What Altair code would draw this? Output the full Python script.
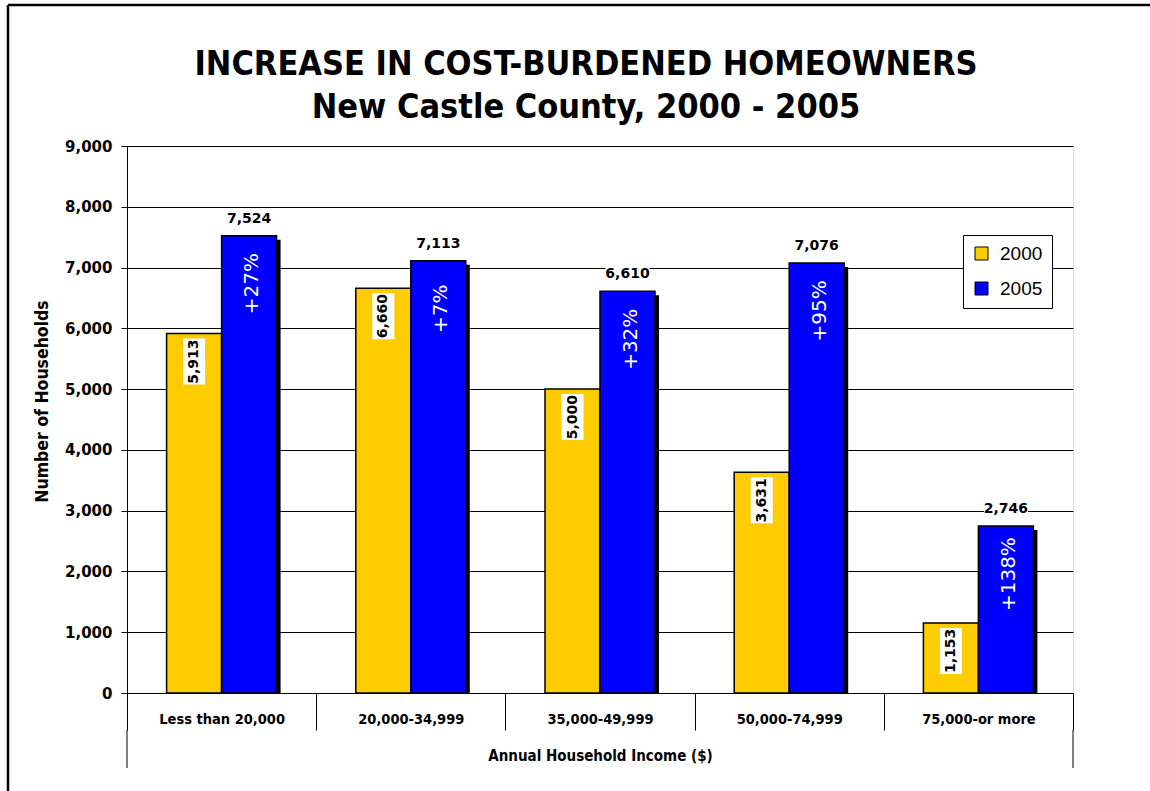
import altair as alt
import pandas as pd

categories = ["Less than 20,000", "20,000-34,999", "35,000-49,999", "50,000-74,999", "75,000-or more"]
years = ["2000", "2005"]
values_2000 = [5913, 6660, 5000, 3631, 1153]
values_2005 = [7524, 7113, 6610, 7076, 2746]
pct_labels = ["+27%", "+7%", "+32%", "+95%", "+138%"]
y_ticks = [0, 1000, 2000, 3000, 4000, 5000, 6000, 7000, 8000, 9000]

rows = []
for c, a, b, p in zip(categories, values_2000, values_2005, pct_labels):
    rows.append({"cat": c, "year": "2000", "value": a, "pct": ""})
    rows.append({"cat": c, "year": "2005", "value": b, "pct": p})
df = pd.DataFrame(rows)

W, H = 946, 547
BAND = W / len(categories)
COND = "DejaVu Sans Condensed, Liberation Sans Narrow, DejaVu Sans"
NUM = "DejaVu Sans"

x_enc = alt.X("cat:N", sort=categories, scale=alt.Scale(paddingInner=0, paddingOuter=0),
              axis=alt.Axis(title="Annual Household Income ($)", labelAngle=0, tickBand="extent",
                            tickSize=37, tickColor="black", domainColor="black",
                            labelFont=COND, labelFontSize=14.5, labelFontWeight="bold", labelColor="black",
                            labelBaseline="middle", labelPadding=-11,
                            titleFont=COND, titleFontSize=15, titleFontWeight="bold", titleColor="black",
                            titleY=62, titleBaseline="middle", grid=False))
xo_enc = alt.XOffset("year:N", scale=alt.Scale(domain=years, paddingInner=0, paddingOuter=0.72))
y_enc = alt.Y("value:Q", scale=alt.Scale(domain=[0, 9000], nice=False),
              axis=alt.Axis(title="Number of Households", values=y_ticks, format=",.0f",
                            labelFont=NUM, labelFontSize=15, labelFontWeight="bold", labelColor="black",
                            tickSize=6, tickColor="black", labelPadding=9, domainColor="black",
                            gridColor="black", gridWidth=1,
                            titleFont=COND, titleFontSize=17.5, titleFontWeight="bold", titleColor="black",
                            titleX=-85, titleY=255, titleAlign="center", titleBaseline="middle"))

base = alt.Chart(df)
d2000 = base.transform_filter(alt.datum.year == "2000")
d2005 = base.transform_filter(alt.datum.year == "2005")

shadow = d2005.mark_bar(color="black", yOffset=4, clip=True).encode(
    x=x_enc,
    xOffset=alt.XOffset("year:N", scale=alt.Scale(domain=years, range=[4, BAND + 4],
                                                 paddingInner=0, paddingOuter=0.72)),
    y=y_enc)
shadow_layer = alt.layer(shadow)

bars = base.mark_bar(stroke="black", strokeWidth=1.5).encode(
    x=x_enc, xOffset=xo_enc, y=y_enc,
    color=alt.Color("year:N", scale=alt.Scale(domain=years, range=["#FFCC00", "#0000FF"]),
                    legend=alt.Legend(title=None, orient="none", legendX=836, legendY=89,
                                      fillColor="white", strokeColor="black", padding=9,
                                      symbolType="square", symbolSize=169, symbolStrokeColor="black",
                                      symbolStrokeWidth=1, labelFont="Liberation Sans", labelFontSize=19,
                                      labelColor="black", rowPadding=15, labelOffset=9)))

box2000 = d2000.mark_point(shape="M-0.48,-1L0.48,-1L0.48,1L-0.48,1Z", filled=True, fill="white",
                           opacity=1, strokeWidth=0, size=2116, yOffset=28).encode(
    x=x_enc, xOffset=xo_enc, y=y_enc)
txt2000 = d2000.mark_text(angle=270, font=NUM, fontSize=14, fontWeight="bold", color="black",
                          align="center", baseline="middle", yOffset=28).encode(
    x=x_enc, xOffset=xo_enc, y=y_enc, text=alt.Text("value:Q", format=","))

box2005 = d2005.mark_point(shape="M-1,-0.42L1,-0.42L1,0.42L-1,0.42Z", filled=True, fill="white",
                           opacity=1, strokeWidth=0, size=1936, yOffset=-17).encode(
    x=x_enc, xOffset=xo_enc, y=y_enc)
txt2005 = d2005.mark_text(font=NUM, fontSize=14, fontWeight="bold", color="black",
                          align="center", baseline="middle", yOffset=-17).encode(
    x=x_enc, xOffset=xo_enc, y=y_enc, text=alt.Text("value:Q", format=","))

pct = d2005.mark_text(angle=270, font=NUM, fontSize=20, color="white",
                      align="center", baseline="middle", yOffset=48, dy=3).encode(
    x=x_enc, xOffset=xo_enc, y=y_enc, text="pct:N")

one = alt.Data(values=[{}])
ext_left = alt.Chart(one).mark_rule(color="black", strokeWidth=1).encode(
    x=alt.value(0), y=alt.value(H + 37), y2=alt.value(H + 75))
ext_right = alt.Chart(one).mark_rule(color="black", strokeWidth=1).encode(
    x=alt.value(W), y=alt.value(H + 37), y2=alt.value(H + 75))
frame_left = alt.Chart(one).mark_rule(color="black", strokeWidth=2.5).encode(
    x=alt.value(-119), y=alt.value(-141), y2=alt.value(700))
frame_top = alt.Chart(one).mark_rule(color="black", strokeWidth=2.5).encode(
    x=alt.value(-119), x2=alt.value(1100), y=alt.value(-141))

main = alt.layer(bars, box2000, txt2000, box2005, txt2005, pct,
                 ext_left, ext_right, frame_left, frame_top)

chart = alt.layer(shadow_layer, main).resolve_scale(xOffset="independent").properties(
    width=W, height=H,
    title=alt.TitleParams(["INCREASE IN COST-BURDENED HOMEOWNERS", "New Castle County, 2000 - 2005"],
                          font=COND, fontSize=34, fontWeight="bold", color="black",
                          anchor="middle", dx=-14, offset=0, dy=155, baseline="bottom", lineHeight=43),
    autosize=alt.AutoSizeParams(type="none"),
    padding={"left": 127, "top": 146, "right": 77, "bottom": 98},
).configure_view(fill="#FFFFCC", stroke="#808080", strokeWidth=2).configure(background="white")

chart.save("out.html", embed_options={"renderer": "svg", "actions": False})
